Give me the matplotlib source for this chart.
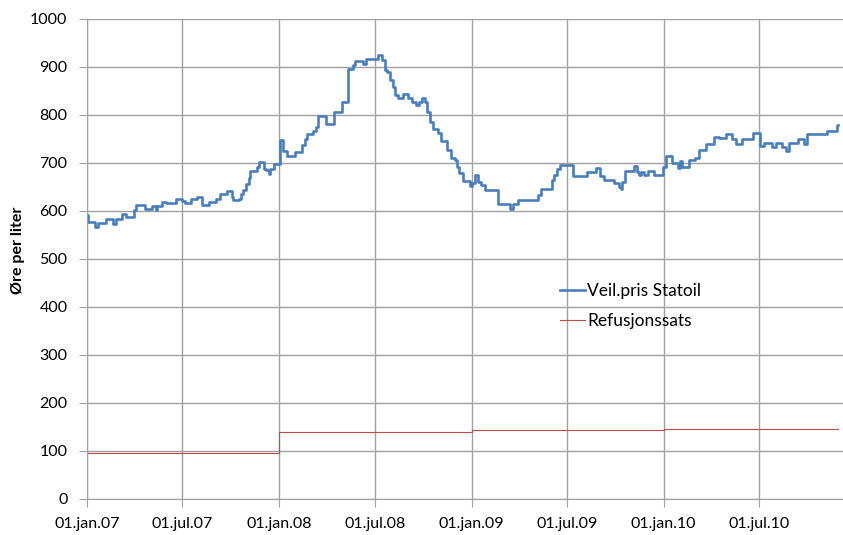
import numpy as np
import pandas as pd
import matplotlib
matplotlib.use("Agg")
import matplotlib.pyplot as plt

plt.rcParams['font.family'] = ['Lato', 'DejaVu Sans']

start = pd.Timestamp('2007-01-01')

# Veil.pris Statoil: step changes (days since 01.jan.07, øre per liter)
statoil_dager = [0, 2, 15, 21, 37, 50, 56, 66, 75, 90, 94, 110, 123, 131, 134, 143, 151,
                 170, 180, 186, 198, 210, 219, 232, 245, 253, 267, 275, 278, 288, 292, 297,
                 302, 307, 310, 323, 326, 336, 340, 345, 348, 356, 366, 372, 381, 395, 408,
                 414, 418, 430, 435, 440, 455, 470, 484, 497, 506, 510, 525, 530, 554, 560,
                 567, 571, 576, 581, 586, 592, 601, 611, 617, 625, 632, 636, 643, 646, 652,
                 658, 668, 672, 685, 691, 700, 703, 707, 714, 728, 731, 738, 744, 749, 757,
                 781, 804, 810, 819, 858, 863, 883, 888, 893, 899, 923, 951, 968, 975, 983,
                 1001, 1012, 1015, 1017, 1023, 1039, 1045, 1050, 1053, 1058, 1067, 1077,
                 1094, 1101, 1112, 1124, 1128, 1131, 1145, 1156, 1164, 1177, 1191, 1202,
                 1215, 1226, 1234, 1245, 1266, 1279, 1287, 1302, 1310, 1321, 1329, 1335,
                 1351, 1363, 1369, 1407, 1425, 1427]
statoil_pris = [592, 578, 566, 574, 583, 572, 583, 593, 588, 602, 612, 604, 610, 602, 610, 619, 616,
                625, 621, 616, 624, 630, 612, 618, 626, 635, 642, 630, 622, 626, 635, 644,
                656, 668, 684, 692, 703, 688, 685, 677, 688, 697, 747, 725, 715, 722, 737,
                749, 760, 767, 776, 798, 781, 806, 828, 895, 904, 913, 907, 917, 926, 915,
                894, 890, 873, 859, 842, 836, 844, 835, 828, 821, 828, 835, 828, 807, 786,
                770, 762, 746, 727, 710, 706, 692, 679, 663, 652, 658, 675, 661, 654, 644,
                615, 604, 615, 623, 633, 646, 665, 675, 687, 696, 672, 681, 689, 673, 665,
                658, 651, 646, 661, 684, 694, 682, 675, 682, 675, 684, 676,
                692, 715, 699, 690, 705, 692, 706, 711, 727, 739, 755, 753,
                760, 749, 739, 751, 762, 735, 742, 734, 741, 733, 726, 741,
                750, 739, 760, 767, 779, 779]

# Refusjonssats
refusjon_dager = [0, 365, 731, 1096, 1427]
refusjon_sats = [96, 140, 144, 146, 146]

tick_datoer = ['2007-01-01', '2007-07-01', '2008-01-01', '2008-07-01',
               '2009-01-01', '2009-07-01', '2010-01-01', '2010-07-01']
tick_tekst = ['01.jan.07', '01.jul.07', '01.jan.08', '01.jul.08',
              '01.jan.09', '01.jul.09', '01.jan.10', '01.jul.10']

x_statoil = start + pd.to_timedelta(statoil_dager, unit='D')
x_refusjon = start + pd.to_timedelta(refusjon_dager, unit='D')

fig = plt.figure(figsize=(8.43, 5.35), dpi=100)
ax = fig.add_axes([87 / 843, 1 - 499 / 535, 1 - 87 / 843, (499 - 19) / 535])

ax.plot(x_statoil, statoil_pris, drawstyle='steps-post', color='#4a7ebb', lw=1.9,
        label='Veil.pris Statoil')
ax.plot(x_refusjon, refusjon_sats, drawstyle='steps-post', color='#be4b48', lw=0.8,
        label='Refusjonssats')

ax.set_ylim(0, 1000)
ax.set_yticks(np.arange(0, 1001, 100))
ax.set_xlim(start, start + pd.Timedelta(days=1437))
ax.set_xticks(pd.to_datetime(tick_datoer))
ax.set_xticklabels(tick_tekst)

ax.grid(True, color='#a0a0a0', lw=1)
ax.set_axisbelow(True)
for s in ['top', 'right']:
    ax.spines[s].set_visible(False)
for s in ['left', 'bottom']:
    ax.spines[s].set_color('#a0a0a0')
ax.tick_params(axis='y', length=6, color='#a0a0a0', labelsize=11.5, pad=8)
ax.tick_params(axis='x', length=6, color='#a0a0a0', labelsize=11.5, pad=7)

fig.text(18 / 843, 1 - 250 / 535, 'Øre per liter', rotation=90, fontsize=11.5,
         fontweight='bold', ha='center', va='center')

ax.legend(loc='center left', bbox_to_anchor=(551 / 843, 1 - 306 / 535),
          bbox_transform=fig.transFigure, frameon=False, fontsize=12.5,
          handlelength=1.45, handletextpad=0.15, labelspacing=0.85, borderpad=0)

fig.savefig('out.png', dpi=100)
